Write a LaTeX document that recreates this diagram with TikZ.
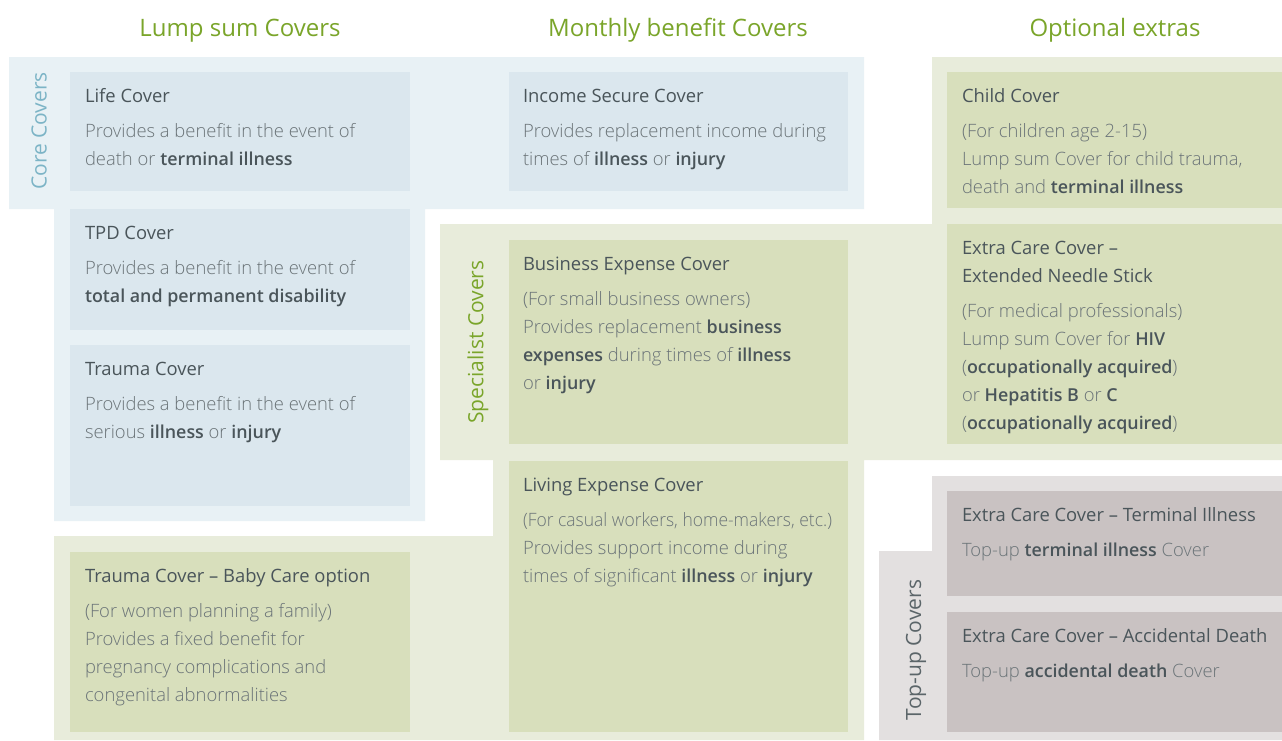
\documentclass[tikz,border=0pt]{standalone}
\usepackage{fontspec}
\setmainfont{Open Sans Light}[BoldFont={Open Sans Semibold}, BoldFeatures={Scale=0.97}]
\newfontfamily\regfont{Open Sans}
\definecolor{bgblue}{HTML}{E8F1F5}
\definecolor{boxblue}{HTML}{DBE7EE}
\definecolor{bggreen}{HTML}{E8ECDB}
\definecolor{boxgreen}{HTML}{D8DFBC}
\definecolor{bggray}{HTML}{E3E0E0}
\definecolor{boxgray}{HTML}{C9C2C2}
\definecolor{headgreen}{HTML}{7AA52A}
\definecolor{corelab}{HTML}{7CB4C6}
\definecolor{titlecol}{HTML}{4A555A}
\definecolor{bodycol}{HTML}{6B7478}
\definecolor{topuplab}{HTML}{5B6569}
\newcommand{\mlines}[1]{\vtop{\baselineskip=28pt\lineskiplimit=-100pt\lineskip=0pt\halign{##\hfil\cr#1\crcr}}}
\newcommand{\hb}[1]{{\bfseries\color{titlecol}#1}}
\begin{document}
\begin{tikzpicture}[x=1pt,y=-1pt,
  every node/.style={inner sep=0pt, outer sep=0pt},
  ttl/.style={anchor=base west, font=\regfont\fontsize{18.4}{28}\selectfont, text=titlecol},
  body/.style={anchor=base west, font=\fontsize{18.4}{28}\selectfont, text=bodycol},
  head/.style={font=\regfont\fontsize{24}{28}\selectfont, text=headgreen, anchor=base},
  side/.style={font=\regfont\fontsize{21}{28}\selectfont, rotate=90, anchor=center}
]
\useasboundingbox (0,0) rectangle (1282,740);
\fill[white] (0,0) rectangle (1282,740);
% background regions
\fill[bgblue] (9,57) -- (864,57) -- (864,209) -- (425,209) -- (425,521) -- (54,521) -- (54,209) -- (9,209) -- cycle;
\fill[bggreen] (932,57) -- (1282,57) -- (1282,460) -- (864,460) -- (864,740) -- (54,740) -- (54,536) -- (493,536) -- (493,460) -- (440,460) -- (440,224) -- (932,224) -- cycle;
\fill[bggray] (932,476) -- (1282,476) -- (1282,740) -- (879,740) -- (879,551) -- (932,551) -- cycle;
% headings
\node[head] (h1) at (240,36) {Lump sum Covers};
\node[head] (h2) at (678,36) {Monthly benefit Covers};
\node[head] (h3) at (1115,36) {Optional extras};
% side labels
\node[side, text=corelab] (sc) at (39,131) {Core Covers};
\node[side, text=headgreen] (ss) at (478,342) {Specialist Covers};
\node[side, text=topuplab] (st) at (916,650) {Top-up Covers};
% boxes
\path[fill=boxblue] (70,72) rectangle (410,191);
\path[fill=boxblue] (70,209) rectangle (410,330);
\path[fill=boxblue] (70,345) rectangle (410,506);
\path[fill=boxgreen] (70,552) rectangle (410,732);
\path[fill=boxblue] (509,72) rectangle (848,191);
\path[fill=boxgreen] (509,240) rectangle (848,444);
\path[fill=boxgreen] (509,461) rectangle (848,732);
\path[fill=boxgreen] (947,72) rectangle (1282,208);
\path[fill=boxgreen] (947,224) rectangle (1282,444);
\path[fill=boxgray] (947,491) rectangle (1282,596);
\path[fill=boxgray] (947,612) rectangle (1282,732);
% texts
\node[ttl] (life-t) at (85,102) {Life Cover};
\node[body] (life-b) at (85,137) {\mlines{Provides a benefit in the event of\cr death or \hb{terminal illness}}};
\node[ttl] (tpd-t) at (85,239) {TPD Cover};
\node[body] (tpd-b) at (85,274) {\mlines{Provides a benefit in the event of\cr \hb{total and permanent disability}}};
\node[ttl] (tr-t) at (85,375) {Trauma Cover};
\node[body] (tr-b) at (85,410) {\mlines{Provides a benefit in the event of\cr serious \hb{illness} or \hb{injury}}};
\node[ttl] (bc-t) at (85,582) {Trauma Cover – Baby Care option};
\node[body] (bc-b) at (85,617) {\mlines{(For women planning a family)\cr Provides a fixed benefit for\cr pregnancy complications and\cr congenital abnormalities}};
\node[ttl] (is-t) at (523,102) {Income Secure Cover};
\node[body] (is-b) at (523,137) {\mlines{Provides replacement income during\cr times of \hb{illness} or \hb{injury}}};
\node[ttl] (be-t) at (523,270) {Business Expense Cover};
\node[body] (be-b) at (523,305) {\mlines{(For small business owners)\cr Provides replacement \hb{business}\cr \hb{expenses} during times of \hb{illness}\cr or \hb{injury}}};
\node[ttl] (le-t) at (523,491) {Living Expense Cover};
\node[body] (le-b) at (523,526) {\mlines{\scalebox{0.95}[1]{(For casual workers, home-makers, etc.)}\cr Provides support income during\cr times of significant \hb{illness} or \hb{injury}}};
\node[ttl] (cc-t) at (962,102) {Child Cover};
\node[body] (cc-b) at (962,137) {\mlines{(For children age 2-15)\cr Lump sum Cover for child trauma,\cr death and \hb{terminal illness}}};
\node[ttl] (ns-t) at (962,254) {\mlines{Extra Care Cover –\cr Extended Needle Stick}};
\node[body] (ns-b) at (962,317) {\mlines{(For medical professionals)\cr Lump sum Cover for \hb{HIV}\cr (\hb{occupationally acquired})\cr or \hb{Hepatitis B} or \hb{C}\cr (\hb{occupationally acquired})}};
\node[ttl] (ti-t) at (962,521) {Extra Care Cover – Terminal Illness};
\node[body] (ti-b) at (962,556) {Top-up \hb{terminal illness} Cover};
\node[ttl] (ad-t) at (962,642) {Extra Care Cover – Accidental Death};
\node[body] (ad-b) at (962,677) {Top-up \hb{accidental death} Cover};
\end{tikzpicture}
\end{document}
